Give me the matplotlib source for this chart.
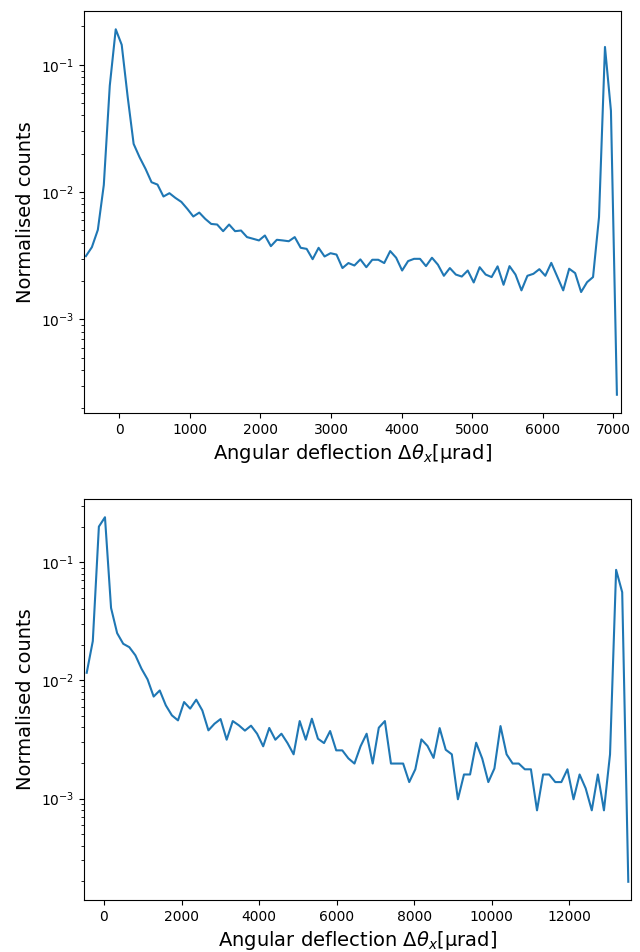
import numpy as np
import matplotlib
matplotlib.use("Agg")
import matplotlib.pyplot as plt

# bin centres (uniform bins)
top_x_first, top_x_last = -473, 7052
bot_x_first, bot_x_last = -445, 13520

top_counts = [
    0.00314, 0.00369, 0.00505, 0.01137, 0.0684, 0.19, 0.1435, 0.056, 0.0239, 0.01875,
    0.0152, 0.01195, 0.01145, 0.00923, 0.0098, 0.0090, 0.00837, 0.00738, 0.00643, 0.0069,
    0.00616, 0.00562, 0.00556, 0.00493, 0.00556, 0.00493, 0.00499, 0.00443, 0.0043, 0.00417,
    0.00456, 0.00376, 0.00422, 0.00417, 0.00411, 0.00443, 0.00365, 0.00358, 0.00297, 0.00365,
    0.00312, 0.00331, 0.00323, 0.00253, 0.00277, 0.00265,
    0.00296, 0.00257, 0.00294, 0.00294, 0.00277, 0.00344, 0.00305, 0.00242, 0.00287, 0.00299,
    0.00299, 0.00262, 0.00305, 0.00269, 0.0022, 0.00253, 0.00225, 0.00217, 0.00242, 0.00195,
    0.00257, 0.00225, 0.00215, 0.00261, 0.00187, 0.00262, 0.00225, 0.00169, 0.0022, 0.00228,
    0.00248, 0.0022, 0.00278, 0.00217, 0.00169, 0.0025, 0.00231, 0.00164, 0.00196, 0.00215,
    0.00635, 0.138, 0.0435, 0.000256,
]

bot_counts = [
    0.0116, 0.0215, 0.2, 0.24, 0.041, 0.0251, 0.0204, 0.0191, 0.0163, 0.01256,
    0.0102, 0.0073, 0.00822, 0.00615, 0.00506, 0.00459, 0.00656, 0.00577, 0.00687, 0.00557,
    0.00378, 0.0043, 0.00471, 0.00315, 0.00453, 0.00417, 0.00376, 0.00414, 0.00354, 0.00277,
    0.00396, 0.00315, 0.00354, 0.00295, 0.00237, 0.00453, 0.00315, 0.00474, 0.00321, 0.00295,
    0.00373, 0.00256, 0.00256, 0.00219, 0.00198,
    0.00277, 0.00354, 0.00198, 0.00398, 0.00453, 0.00198, 0.00198, 0.00198, 0.00138, 0.00177,
    0.00317, 0.00279, 0.00221, 0.00395, 0.00259, 0.00237, 0.000987, 0.0016, 0.0016, 0.00297,
    0.00218, 0.00138, 0.0018, 0.00411, 0.00237, 0.00198, 0.00198, 0.00177, 0.00177, 0.000796,
    0.0016, 0.0016, 0.00138, 0.00138, 0.00177, 0.000987, 0.0016, 0.00122, 0.000796, 0.0016,
    0.000796, 0.00237, 0.0861, 0.0557, 0.000198,
]

top_x = np.linspace(top_x_first, top_x_last, len(top_counts))
bot_x = np.linspace(bot_x_first, bot_x_last, len(bot_counts))

xlabel = r"Angular deflection $\Delta\theta_x$[μrad]"

fig = plt.figure(figsize=(6.4, 9.52), dpi=100)

ax1 = fig.add_axes([84 / 640, 1 - 413 / 952, (621 - 84) / 640, (413 - 11) / 952])
ax1.plot(top_x, top_counts)
ax1.set_yscale("log")
ax1.set_xlim(-500, 7110)
ax1.set_xticks(np.arange(0, 7001, 1000))
ax1.set_xlabel(xlabel, fontsize=14)
ax1.set_ylabel("Normalised counts", fontsize=14)

ax2 = fig.add_axes([84 / 640, 1 - 900 / 952, (631 - 84) / 640, (900 - 499) / 952])
ax2.plot(bot_x, bot_counts)
ax2.set_yscale("log")
ax2.set_xlim(-515, 13590)
ax2.set_xticks(np.arange(0, 12001, 2000))
ax2.set_xlabel(xlabel, fontsize=14)
ax2.set_ylabel("Normalised counts", fontsize=14)

fig.savefig("out.png", dpi=100)
